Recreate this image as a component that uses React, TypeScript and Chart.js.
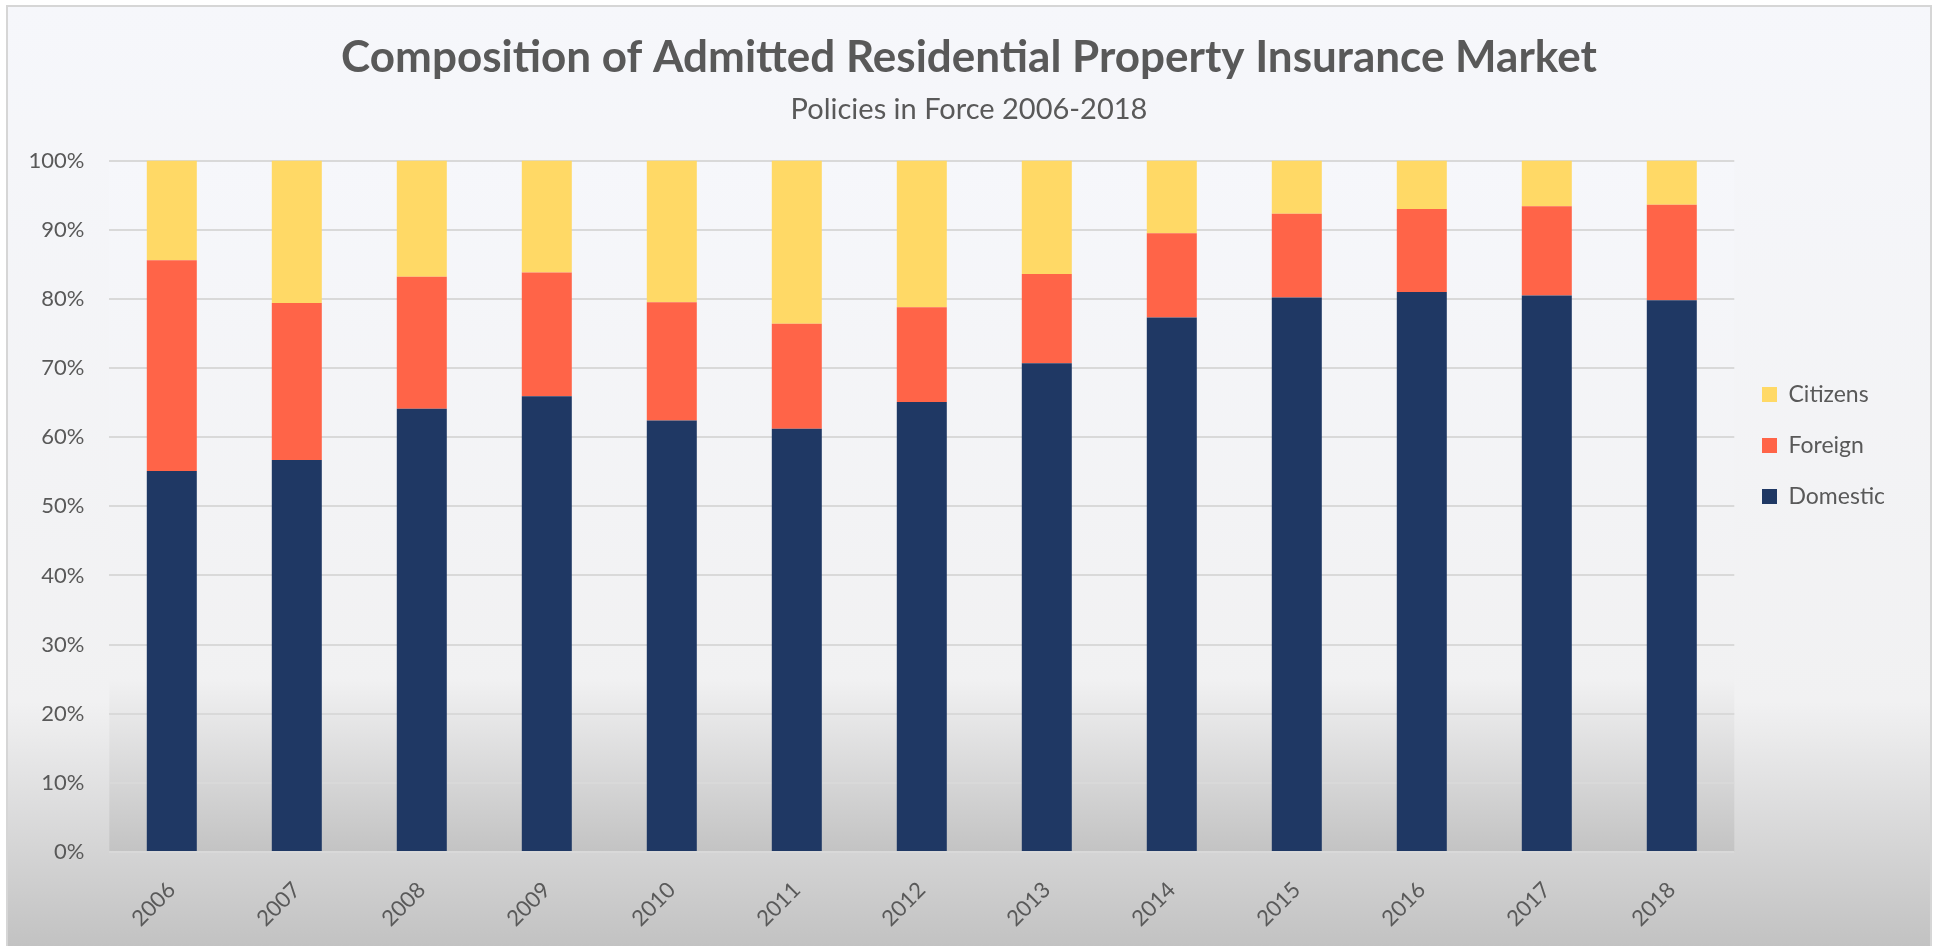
import React, { useEffect, useRef } from "react";
import { Chart, registerables } from "chart.js";

Chart.register(...registerables);

const TITLE = "Composition of Admitted Residential Property Insurance Market";
const SUBTITLE = "Policies in Force 2006-2018";
const YEARS = ["2006", "2007", "2008", "2009", "2010", "2011", "2012", "2013", "2014", "2015", "2016", "2017", "2018"];
const DOMESTIC = [55.1, 56.7, 64.1, 65.9, 62.4, 61.2, 65.1, 70.7, 77.3, 80.2, 81.0, 80.5, 79.8];
const FOREIGN = [30.5, 22.7, 19.1, 17.9, 17.1, 15.2, 13.7, 12.9, 12.2, 12.1, 12.0, 12.9, 13.8];
const CITIZENS = [14.4, 20.6, 16.8, 16.2, 20.5, 23.6, 21.2, 16.4, 10.5, 7.7, 7.0, 6.6, 6.4];

const TEXT = "#595959";
const FONT = "Lato";

const bgPlugin = {
  id: "bgPlugin",
  beforeDraw(chart: any) {
    const { ctx, width, height, chartArea: a } = chart;
    ctx.save();
    let g = ctx.createLinearGradient(0, 0, 0, height);
    g.addColorStop(0, "#f6f7fb");
    g.addColorStop(0.74, "#f1f1f2");
    g.addColorStop(1, "#c2c2c2");
    ctx.fillStyle = g;
    ctx.fillRect(0, 0, width, height);
    g = ctx.createLinearGradient(0, a.top, 0, a.bottom);
    g.addColorStop(0, "#f6f7fb");
    g.addColorStop(0.75, "#f1f1f2");
    g.addColorStop(1, "#c3c3c3");
    ctx.fillStyle = g;
    ctx.fillRect(a.left, a.top, a.right - a.left, a.bottom - a.top);
    ctx.restore();
  },
  afterLayout(chart: any) {
    const lg = chart.legend;
    if (lg) {
      const w = lg.width;
      lg.left = 1726;
      lg.right = 1726 + w;
      lg.top = 348;
      lg.bottom = 900;
    }
    // center the title and subtitle over the full canvas width
    for (const b of chart.boxes || []) {
      if (b && b.position === "top" && b !== lg && !b.axis) {
        b.left = 0;
        b.right = chart.width;
        b.width = chart.width;
      }
    }
  },
};

export default function App() {
  const ref = useRef<HTMLCanvasElement>(null);
  useEffect(() => {
    const chart = new Chart(ref.current as HTMLCanvasElement, {
      type: "bar",
      data: {
        labels: YEARS,
        datasets: [
          { label: "Domestic", data: DOMESTIC, backgroundColor: "#1f3864", barPercentage: 0.4, categoryPercentage: 1 },
          { label: "Foreign", data: FOREIGN, backgroundColor: "#ff6448", barPercentage: 0.4, categoryPercentage: 1 },
          { label: "Citizens", data: CITIZENS, backgroundColor: "#ffd966", barPercentage: 0.4, categoryPercentage: 1 },
        ],
      },
      plugins: [bgPlugin],
      options: {
        animation: false,
        responsive: true,
        maintainAspectRatio: false,
        layout: { padding: { top: 0, right: 45.7, bottom: 0, left: 0 } },
        plugins: {
          title: {
            display: true,
            text: TITLE,
            color: TEXT,
            font: { family: FONT, size: 44, weight: "bold" },
            padding: { top: 24, bottom: 0 },
          },
          subtitle: {
            display: true,
            text: SUBTITLE,
            color: TEXT,
            font: { family: FONT, size: 29, weight: "normal" },
            padding: { top: 8, bottom: 34 },
          },
          legend: {
            position: "right",
            align: "start",
            reverse: true,
            maxWidth: 150,
            labels: {
              boxWidth: 15,
              boxHeight: 15,
              padding: 28,
              color: TEXT,
              font: { family: FONT, size: 23 },
            },
          },
          tooltip: { enabled: false },
        },
        scales: {
          x: {
            stacked: true,
            grid: { display: false },
            border: { display: false },
            ticks: {
              color: TEXT,
              font: { family: FONT, size: 22 },
              minRotation: 45,
              maxRotation: 45,
              padding: 17,
            },
            afterFit(s: any) {
              s.height = 94;
            },
          },
          y: {
            stacked: true,
            min: 0,
            max: 100,
            grid: { color: "#d9d9d9", lineWidth: 2, drawTicks: false },
            border: { display: false },
            ticks: {
              stepSize: 10,
              padding: 25,
              color: TEXT,
              font: { family: FONT, size: 22 },
              callback: (v: any) => v + "%",
            },
            afterFit(s: any) {
              s.width = 101.3;
            },
          },
        },
      },
    } as any);
    return () => chart.destroy();
  }, []);
  return (
    <div
      style={{
        position: "absolute",
        left: 6,
        top: 5,
        width: 1926,
        height: 941,
        border: "2px solid #d6d6d6",
        borderBottom: "none",
        boxSizing: "border-box",
      }}
    >
      <div style={{ position: "relative", width: 1922, height: 939 }}>
        <canvas ref={ref} />
      </div>
    </div>
  );
}
